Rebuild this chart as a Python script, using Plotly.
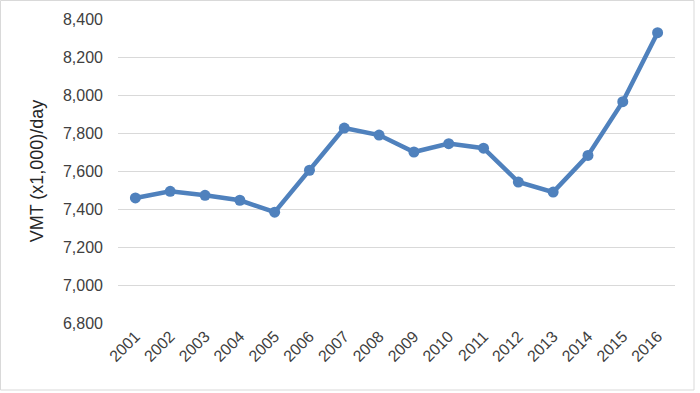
import plotly.graph_objects as go

years = ["2001", "2002", "2003", "2004", "2005", "2006", "2007", "2008",
         "2009", "2010", "2011", "2012", "2013", "2014", "2015", "2016"]
vmt = [7458, 7493, 7472, 7446, 7383, 7604, 7826, 7789,
       7700, 7744, 7720, 7542, 7489, 7682, 7965, 8328]
y_ticks = [6800, 7000, 7200, 7400, 7600, 7800, 8000, 8200, 8400]
y_tick_text = ["6,800", "7,000", "7,200", "7,400", "7,600", "7,800", "8,000", "8,200", "8,400"]

FONT = "Liberation Sans"
BLUE = "#4F81BD"

fig = go.Figure()
fig.add_trace(go.Scatter(
    x=years, y=vmt, mode="lines+markers",
    line=dict(color=BLUE, width=4.5),
    marker=dict(color=BLUE, size=11),
    showlegend=False,
))

L, R, T, B = 118, 25, 19, 70
W, H = 700, 393
pw, ph = W - L - R, H - T - B

fig.update_layout(
    width=W, height=H,
    margin=dict(l=L, r=R, t=T, b=B),
    paper_bgcolor="white", plot_bgcolor="white",
    font=dict(family=FONT, size=16, color="#595959"),
    xaxis=dict(
        type="category", tickangle=-45, showgrid=False, zeroline=False,
        showline=False, ticks="", tickfont=dict(size=16, color="#404040"),
        range=[-0.5, len(years) - 0.5],
    ),
    yaxis=dict(
        range=[6800, 8400], tickvals=y_ticks, ticktext=y_tick_text,
        showgrid=True, gridcolor="#D9D9D9", gridwidth=1, zeroline=False,
        showline=False, ticks="", ticklabelstandoff=14,
        tickfont=dict(size=16, color="#404040"),
        title=dict(text="VMT (x1,000)/day", font=dict(size=18, color="#262626"), standoff=14),
    ),
    shapes=[dict(
        type="rect", xref="paper", yref="paper",
        x0=(0.5 - L) / pw, x1=(694 - L) / pw,
        y0=(T + ph - 390) / ph, y1=(T + ph - 0.5) / ph,
        line=dict(color="#D9D9D9", width=1), fillcolor="rgba(0,0,0,0)", layer="below",
    )],
)

fig.write_html(
    "out.html",
    config={"displayModeBar": False},
    post_script="document.body.style.margin='0';document.body.style.overflow='hidden';",
)
